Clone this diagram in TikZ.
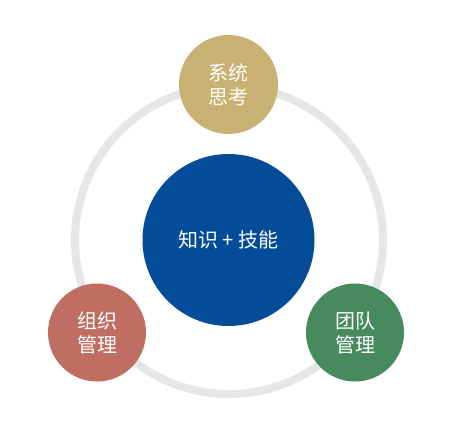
\documentclass[tikz,border=0pt]{standalone}
\usepackage{fontspec}
\newfontfamily\cjk{Noto Sans CJK SC}
\definecolor{ringgray}{HTML}{E6E6E6}
\definecolor{cblue}{HTML}{034C97}
\definecolor{cgold}{HTML}{C8B173}
\definecolor{cred}{HTML}{C06E61}
\definecolor{cgreen}{HTML}{468A5D}
\tikzset{
  ball/.style={circle, inner sep=0pt, text=white, align=center,
    font=\cjk\fontsize{20}{24}\selectfont},
}
\begin{document}
\begin{tikzpicture}[x=1pt,y=-1pt]
\useasboundingbox (0,0) rectangle (450,447);
\fill[white] (0,0) rectangle (450,447);
\draw[ringgray, line width=8pt] (229,240) circle[radius=154];
\node[ball, fill=cblue, minimum size=172pt] (core) at (228.5,240) {知识 + 技能};
\node[ball, fill=cgold, minimum size=99pt] (sys) at (228.5,84.5) {系统\\思考};
\node[ball, fill=cred, minimum size=98pt] (org) at (97,332.5) {组织\\管理};
\node[ball, fill=cgreen, minimum size=98pt] (team) at (355,332.5) {团队\\管理};
\end{tikzpicture}
\end{document}
